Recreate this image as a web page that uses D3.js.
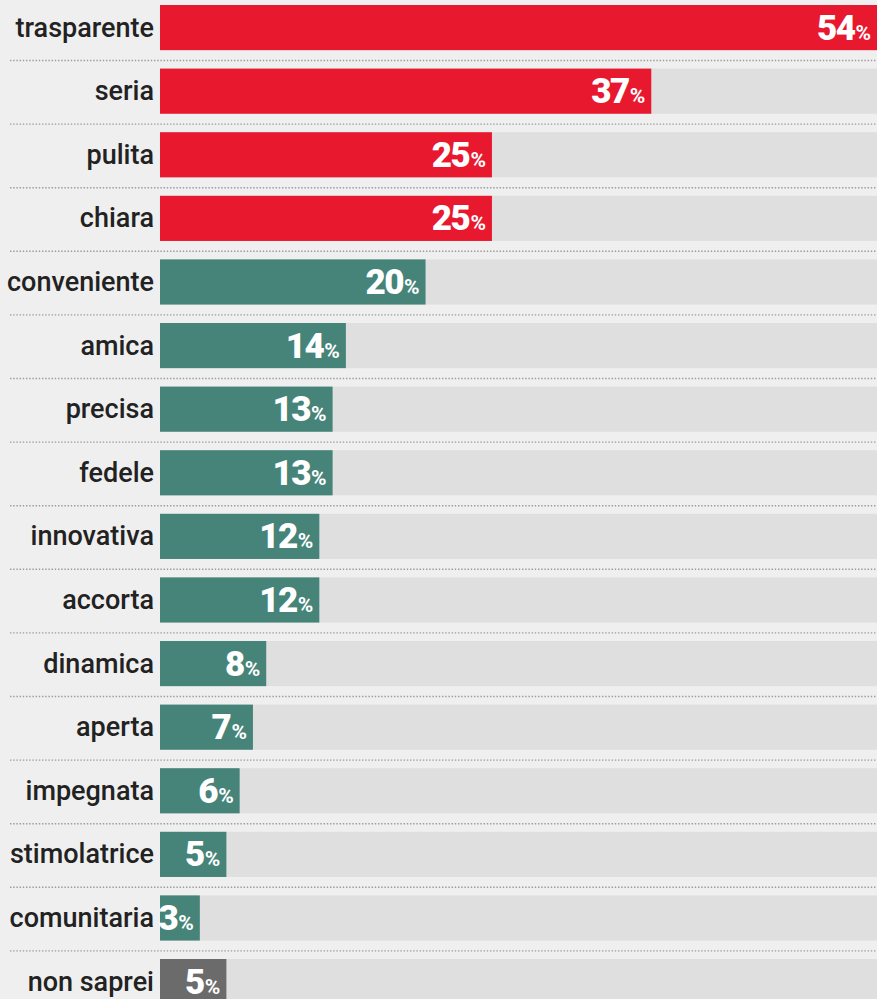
<!DOCTYPE html>
<html><head><meta charset="utf-8">
<script src="https://cdn.jsdelivr.net/npm/d3@7"></script>
<style>
html,body{margin:0;padding:0;background:#efefef;overflow:hidden;}
svg{display:block;}
</style></head>
<body><div id="chart"></div>
<script>
const categories = ["trasparente","seria","pulita","chiara","conveniente","amica","precisa","fedele","innovativa","accorta","dinamica","aperta","impegnata","stimolatrice","comunitaria","non saprei"];
const values = [54,37,25,25,20,14,13,13,12,12,8,7,6,5,3,5];
const groups = ["top","top","top","top","other","other","other","other","other","other","other","other","other","other","other","unknown"];
const groupColors = {top:"#e8192f", other:"#46847a", unknown:"#6b6b6b"};

const W = 877, H = 999;
const svg = d3.select("#chart").append("svg").attr("width", W).attr("height", H);
svg.append("rect").attr("width", W).attr("height", H).attr("fill", "#efefef");

const step = 63.6, pad = 0.29;
const x = d3.scaleLinear().domain([0, 54]).range([160, 877]);
const y = d3.scaleBand().domain(categories)
  .range([5, 5 + step * (categories.length - pad)])
  .paddingInner(pad).paddingOuter(0);

const rows = svg.selectAll("g.row").data(categories).join("g").attr("class","row");

// tracks
rows.append("rect")
  .attr("x", x(0)).attr("y", d => y(d))
  .attr("width", W - x(0)).attr("height", y.bandwidth())
  .attr("fill", "#dfdfdf");

// dotted separators
rows.filter((d,i) => i < categories.length - 1).append("line")
  .attr("x1", 10).attr("x2", W)
  .attr("y1", d => y(d) + 55.5).attr("y2", d => y(d) + 55.5)
  .attr("stroke", "#9a9a9a").attr("stroke-width", 1.4)
  .attr("stroke-dasharray", "1.4,1.8");

// bars
rows.append("rect")
  .attr("x", x(0)).attr("y", d => y(d))
  .attr("width", (d,i) => x(values[i]) - x(0)).attr("height", y.bandwidth())
  .attr("fill", (d,i) => groupColors[groups[i]]);

// category labels
rows.append("text")
  .attr("x", 154).attr("y", d => y(d) + y.bandwidth()/2 + 9)
  .attr("text-anchor", "end")
  .attr("font-family", "Roboto, 'Liberation Sans', sans-serif")
  .attr("font-weight", 500)
  .attr("font-size", 27)
  .attr("fill", "#222")
  .text(d => d);

// value labels
const vl = rows.append("text")
  .attr("x", (d,i) => x(values[i]) - 6)
  .attr("y", d => y(d) + y.bandwidth()/2 + 12)
  .attr("text-anchor", "end")
  .attr("font-family", "Roboto, 'Liberation Sans', sans-serif")
  .attr("font-weight", 900)
  .attr("fill", "#fff");
vl.append("tspan").attr("font-size", 35).attr("letter-spacing", -1.5).text((d,i) => values[i]);
vl.append("tspan").attr("font-size", 21).attr("font-weight", 700).attr("dx", 1).text("%");
</script>
</body></html>
